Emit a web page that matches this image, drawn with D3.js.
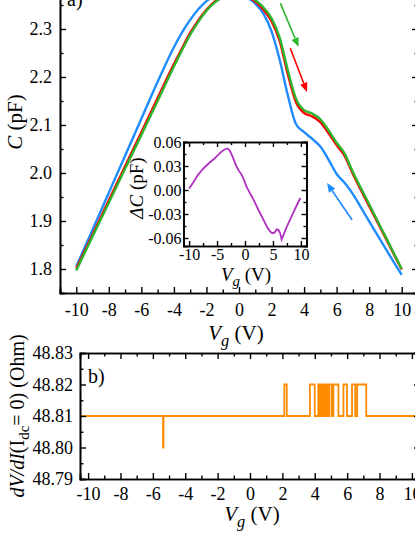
<!DOCTYPE html>
<html>
<head>
<meta charset="utf-8">
<script src="https://cdn.jsdelivr.net/npm/d3@7"></script>
<style>
  body { margin: 0; background: #fff; }
  svg { display: block; font-family: "Liberation Serif", "Times New Roman", serif; }
</style>
</head>
<body>
<svg id="chart" width="415" height="537"></svg>
<script>
// capacitance sweeps (panel a)
const vg = [-10, -9, -8, -7, -6, -5, -4, -3.5, -3, -2.5, -2, -1.5, -1, -0.5, 0, 0.5, 1, 1.5, 2, 2.5, 3, 3.5, 4, 4.5, 5, 5.5, 6, 6.5, 7, 7.5, 8, 8.5, 9, 9.5, 10];
const cBlue = [1.805, 1.882, 1.959, 2.036, 2.113, 2.190, 2.262, 2.293, 2.319, 2.341, 2.358, 2.370, 2.377, 2.378, 2.374, 2.366, 2.353, 2.332, 2.295, 2.236, 2.162, 2.102, 2.085, 2.071, 2.055, 2.028, 1.998, 1.979, 1.956, 1.928, 1.899, 1.871, 1.843, 1.815, 1.788];
const cRed = [1.801, 1.872, 1.943, 2.014, 2.085, 2.156, 2.227, 2.260, 2.292, 2.318, 2.340, 2.357, 2.367, 2.372, 2.372, 2.367, 2.357, 2.340, 2.316, 2.275, 2.206, 2.148, 2.125, 2.118, 2.106, 2.083, 2.058, 2.035, 1.998, 1.964, 1.931, 1.898, 1.865, 1.832, 1.799];
const cGreen = [1.797, 1.868, 1.938, 2.009, 2.079, 2.150, 2.222, 2.256, 2.288, 2.315, 2.338, 2.355, 2.366, 2.372, 2.373, 2.369, 2.360, 2.345, 2.322, 2.282, 2.214, 2.155, 2.131, 2.124, 2.112, 2.089, 2.063, 2.040, 2.002, 1.968, 1.935, 1.901, 1.868, 1.834, 1.800];

// inset: difference curve
const insetVg = [-10, -9.2, -8.5, -7.7, -7, -6.2, -5.5, -4.8, -4.2, -3.6, -3.1, -2.7, -2.3, -1.9, -1.5, -1.1, -0.6, -0.2, 0.3, 0.8, 1.3, 1.8, 2.4, 3.0, 3.5, 4.0, 4.5, 4.9, 5.3, 5.7, 6.0, 6.3, 6.55, 6.9, 7.4, 8.0, 8.6, 9.2, 9.9];
const insetDC = [0.002, 0.010, 0.018, 0.025, 0.030, 0.035, 0.039, 0.044, 0.048, 0.051, 0.052, 0.049, 0.043, 0.036, 0.029, 0.024, 0.019, 0.013, 0.004, -0.003, -0.009, -0.016, -0.025, -0.033, -0.040, -0.047, -0.052, -0.054, -0.053, -0.049, -0.050, -0.054, -0.062, -0.056, -0.047, -0.038, -0.029, -0.020, -0.010];

// panel b: dV/dI steps
const dvdiVg = [-10.5, -5.37, -5.37, -5.34, -5.34, 2.12, 2.12, 2.27, 2.27, 3.7, 3.7, 4.0, 4.0, 4.22, 4.22, 4.3, 4.3, 4.37, 4.37, 4.45, 4.45, 4.5, 4.5, 4.58, 4.58, 4.63, 4.63, 4.72, 4.72, 4.78, 4.78, 4.85, 4.85, 4.9, 4.9, 5.05, 5.05, 5.15, 5.15, 5.46, 5.46, 5.77, 5.77, 5.99, 5.99, 6.3, 6.3, 6.5, 6.5, 6.62, 6.62, 7.18, 7.18, 10.5];
const dvdiR = [48.81, 48.81, 48.80, 48.80, 48.81, 48.81, 48.82, 48.82, 48.81, 48.81, 48.82, 48.82, 48.81, 48.81, 48.82, 48.82, 48.81, 48.81, 48.82, 48.82, 48.81, 48.81, 48.82, 48.82, 48.81, 48.81, 48.82, 48.82, 48.81, 48.81, 48.82, 48.82, 48.81, 48.81, 48.82, 48.82, 48.81, 48.81, 48.82, 48.82, 48.81, 48.81, 48.82, 48.82, 48.81, 48.81, 48.82, 48.82, 48.81, 48.81, 48.82, 48.82, 48.81, 48.81];

// tick values
const capTicks = [1.8, 1.9, 2.0, 2.1, 2.2, 2.3];
const capMinor = [1.75, 1.85, 1.95, 2.05, 2.15, 2.25, 2.35];
const vgTicks = [-10, -8, -6, -4, -2, 0, 2, 4, 6, 8, 10];
const vgMinor = [-11, -9, -7, -5, -3, -1, 1, 3, 5, 7, 9, 11];
const insetXTicks = [-10, -5, 0, 5, 10];
const insetXMinor = [-7.5, -2.5, 2.5, 7.5];
const insetYTicks = [-0.06, -0.03, 0.00, 0.03, 0.06];
const insetYMinor = [-0.045, -0.015, 0.015, 0.045];
const rTicks = [48.79, 48.80, 48.81, 48.82, 48.83];
const rMinor = [48.795, 48.805, 48.815, 48.825];

// sweep direction arrows [vg0, c0, vg1, c1]
const arrowGreen = [2.54, 2.354, 3.66, 2.263];
const arrowRed = [3.15, 2.260, 4.18, 2.169];
const arrowBlue = [6.95, 1.902, 5.41, 1.979];

const colBlue = "#1e8cff", colRed = "#ff0000", colGreen = "#2db52d";
const colPurple = "#b030c0", colOrange = "#ff8c00";

const svg = d3.select("#chart");

// plain hyphen instead of unicode minus, like the original plot
const fmt = (spec) => { const f = d3.format(spec); return (v) => f(v).replace("\u2212", "-"); };

// frame with inward ticks on all four sides
function frame(g, x, y, o) {
  const [x0, x1] = x.range();
  const [y0, y1] = y.range();
  const ax = (gen, tr, vals, size, f) => {
    const a = g.append("g").attr("transform", tr)
      .call(gen.tickValues(vals).tickSize(size).tickPadding(o.pad).tickFormat(f));
    a.select(".domain").attr("stroke-width", 1.6);
    a.selectAll(".tick line").attr("stroke-width", 1.4);
    a.selectAll("text").attr("font-size", o.fs).attr("fill", "#000").attr("font-family", "Liberation Serif");
    return a;
  };
  const none = () => "";
  const bx = ax(d3.axisBottom(x), `translate(0,${y0})`, o.xt, -o.maj, o.xf);
  bx.selectAll("text").attr("dy", "0.71em").attr("y", o.xpad);
  ax(d3.axisBottom(x), `translate(0,${y0})`, o.xm, -o.min, none);
  ax(d3.axisTop(x), `translate(0,${y1})`, o.xt, -o.maj, none);
  ax(d3.axisTop(x), `translate(0,${y1})`, o.xm, -o.min, none);
  const ly = ax(d3.axisLeft(y), `translate(${x0},0)`, o.yt, -o.maj, o.yf);
  ly.selectAll("text").attr("x", -o.ypad);
  ax(d3.axisLeft(y), `translate(${x0},0)`, o.ym, -o.min, none);
  ax(d3.axisRight(y), `translate(${x1},0)`, o.yt, -o.maj, none);
  ax(d3.axisRight(y), `translate(${x1},0)`, o.ym, -o.min, none);
}

function arrow(g, x, y, a, col) {
  const p0 = [x(a[0]), y(a[1])], p1 = [x(a[2]), y(a[3])];
  const ang = Math.atan2(p1[1] - p0[1], p1[0] - p0[0]);
  const L = 9, W = 3.8;
  const bx = p1[0] - L * Math.cos(ang), by = p1[1] - L * Math.sin(ang);
  g.append("line").attr("x1", p0[0]).attr("y1", p0[1]).attr("x2", bx).attr("y2", by)
    .attr("stroke", col).attr("stroke-width", 1.6);
  g.append("path")
    .attr("d", `M${p1[0]},${p1[1]}L${bx + W * Math.sin(ang)},${by - W * Math.cos(ang)}L${bx - W * Math.sin(ang)},${by + W * Math.cos(ang)}Z`)
    .attr("fill", col);
}

// ---------- panel a ----------
const xA = d3.scaleLinear().domain([-11, 11]).range([60, 418]);
const yA = d3.scaleLinear().domain([1.75, 2.40]).range([293, -19]);
const gA = svg.append("g");

const lineA = (ys) => d3.line().x((d, i) => xA(vg[i])).y((d) => yA(d)).curve(d3.curveMonotoneX)(ys);
[[cBlue, colBlue], [cRed, colRed], [cGreen, colGreen]].forEach(([s, c]) => {
  gA.append("path").attr("d", lineA(s)).attr("fill", "none").attr("stroke", c).attr("stroke-width", 2.4);
});

frame(gA, xA, yA, {
  xt: vgTicks, xm: vgMinor, yt: capTicks, ym: capMinor, maj: 6, min: 3.5, pad: 3,
  xpad: 10, ypad: 8, fs: 18, xf: fmt("d"), yf: fmt(".1f")
});

arrow(gA, xA, yA, arrowGreen, colGreen);
arrow(gA, xA, yA, arrowRed, colRed);
arrow(gA, xA, yA, arrowBlue, colBlue);

gA.append("text").attr("x", 67).attr("y", 6).attr("font-size", 20).text("a)");

gA.append("text").attr("transform", "translate(22,122) rotate(-90)").attr("text-anchor", "middle").attr("font-size", 21)
  .call(t => { t.append("tspan").attr("font-style", "italic").text("C"); t.append("tspan").text(" (pF)"); });

function vgLabel(g, cx, by, fs) {
  const t = g.append("text").attr("x", cx).attr("y", by).attr("text-anchor", "middle").attr("font-size", fs);
  t.append("tspan").attr("font-style", "italic").text("V");
  t.append("tspan").attr("font-style", "italic").attr("font-size", fs * 0.78).attr("dy", "0.35em").text("g");
  t.append("tspan").attr("dy", "-0.27em").text(" (V)");
}
vgLabel(gA, 236, 340, 21);

// inset
const xI = d3.scaleLinear().domain([-11, 11]).range([183.5, 306.5]);
const yI = d3.scaleLinear().domain([-0.07, 0.06]).range([246, 142]);
const gI = svg.append("g");
gI.append("rect").attr("x", 183.5).attr("y", 142).attr("width", 123).attr("height", 104).attr("fill", "#fff");
gI.append("path")
  .attr("d", d3.line().x((d, i) => xI(insetVg[i])).y(d => yI(d))(insetDC))
  .attr("fill", "none").attr("stroke", colPurple).attr("stroke-width", 1.8);
frame(gI, xI, yI, {
  xt: insetXTicks, xm: insetXMinor, yt: insetYTicks, ym: insetYMinor, maj: 5, min: 3, pad: 2,
  xpad: 3, ypad: 2, fs: 16, xf: fmt("d"), yf: fmt(".2f")
});
gI.append("text").attr("transform", "translate(143,188) rotate(-90)").attr("text-anchor", "middle").attr("font-size", 19)
  .call(t => { t.append("tspan").attr("font-style", "italic").text("\u0394C"); t.append("tspan").text(" (pF)"); });
vgLabel(gI, 246, 281, 19);

// ---------- panel b ----------
const xB = d3.scaleLinear().domain([-10.5, 10.5]).range([80, 420]);
const yB = d3.scaleLinear().domain([48.79, 48.83]).range([479, 353]);
const gB = svg.append("g");
gB.append("path")
  .attr("d", d3.line().x((d, i) => xB(dvdiVg[i])).y(d => yB(d))(dvdiR))
  .attr("fill", "none").attr("stroke", colOrange).attr("stroke-width", 1.8);
frame(gB, xB, yB, {
  xt: vgTicks, xm: vgMinor.filter(v => v > -10.5 && v < 10.5), yt: rTicks, ym: rMinor, maj: 6, min: 3.5, pad: 3,
  xpad: 8, ypad: 7, fs: 18, xf: fmt("d"), yf: fmt(".2f")
});
gB.append("text").attr("x", 88).attr("y", 383).attr("font-size", 20).text("b)");
gB.append("text").attr("transform", "translate(24,416) rotate(-90)").attr("text-anchor", "middle").attr("font-size", 20)
  .call(t => {
    t.append("tspan").attr("font-style", "italic").text("dV/dI");
    t.append("tspan").text("(I");
    t.append("tspan").attr("font-size", 15).attr("dy", "0.35em").text("dc");
    t.append("tspan").attr("dy", "-0.26em").text("= 0) (Ohm)");
  });
vgLabel(gB, 252, 521, 21);
</script>
</body>
</html>
